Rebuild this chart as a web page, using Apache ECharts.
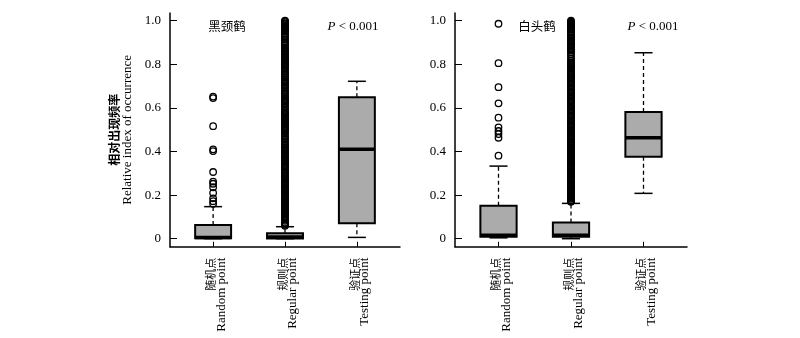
<!DOCTYPE html>
<html>
<head>
<meta charset="utf-8">
<script src="https://cdn.jsdelivr.net/npm/echarts@6/dist/echarts.min.js"></script>
<style>
html,body{margin:0;padding:0;background:#fff;}
#chart{width:800px;height:338px;}
</style>
</head>
<body>
<div id="chart"></div>
<script>
// ---------- data ----------
const categoriesCn = ['随机点', '规则点', '验证点'];
const categoriesEn = ['Random point', 'Regular point', 'Testing point'];
const categoryPositions = [1, 2, 3];
const yTicks = [0, 0.2, 0.4, 0.6, 0.8, 1.0];
const yTickLabels = ['0', '0.2', '0.4', '0.6', '0.8', '1.0'];
const speciesNames = ['黑颈鹤', '白头鹤'];
const pValueText = 'P < 0.001';
const yAxisNameCn = '相对出现频率';
const yAxisNameEn = 'Relative index of occurrence';

// box stats per category: [lower whisker, Q1, median, Q3, upper whisker]
const blackNeckedBoxes = [
  [0.000, 0.002, 0.006, 0.063, 0.147],
  [0.000, 0.001, 0.008, 0.025, 0.055],
  [0.006, 0.071, 0.410, 0.649, 0.722]
];
const hoodedBoxes = [
  [0.004, 0.009, 0.016, 0.151, 0.333],
  [0.000, 0.009, 0.016, 0.074, 0.162],
  [0.208, 0.376, 0.463, 0.581, 0.853]
];

// outliers
const blackNeckedRandomOutliers = [0.652, 0.645, 0.516, 0.410, 0.402, 0.306, 0.262, 0.252, 0.236, 0.210, 0.185, 0.172, 0.160];
const blackNeckedRegularOutliers = [1.000, 0.997, 0.993, 0.988, 0.984, 0.979, 0.975, 0.970, 0.965, 0.961, 0.956, 0.950, 0.941, 0.935, 0.929, 0.922, 0.915, 0.906, 0.899, 0.893, 0.887, 0.879, 0.872, 0.866, 0.861, 0.855, 0.849, 0.844, 0.838, 0.833, 0.827, 0.822, 0.816, 0.811, 0.805, 0.800, 0.794, 0.789, 0.783, 0.776, 0.768, 0.759, 0.752, 0.746, 0.740, 0.733, 0.727, 0.721, 0.716, 0.710, 0.704, 0.697, 0.689, 0.681, 0.672, 0.666, 0.659, 0.652, 0.646, 0.641, 0.635, 0.630, 0.624, 0.617, 0.609, 0.600, 0.592, 0.585, 0.579, 0.573, 0.568, 0.562, 0.557, 0.551, 0.546, 0.540, 0.535, 0.529, 0.524, 0.518, 0.513, 0.507, 0.502, 0.496, 0.489, 0.481, 0.472, 0.463, 0.455, 0.447, 0.439, 0.432, 0.426, 0.420, 0.414, 0.409, 0.403, 0.398, 0.392, 0.387, 0.381, 0.376, 0.370, 0.365, 0.359, 0.354, 0.348, 0.343, 0.337, 0.332, 0.326, 0.320, 0.313, 0.305, 0.298, 0.292, 0.287, 0.281, 0.276, 0.270, 0.265, 0.259, 0.254, 0.248, 0.243, 0.237, 0.232, 0.226, 0.221, 0.215, 0.210, 0.204, 0.199, 0.193, 0.188, 0.182, 0.177, 0.171, 0.166, 0.160, 0.155, 0.149, 0.144, 0.138, 0.133, 0.127, 0.122, 0.116, 0.111, 0.105, 0.100, 0.094, 0.089, 0.082, 0.074, 0.068, 0.063, 0.059];
const hoodedRandomOutliers = [0.986, 0.805, 0.695, 0.621, 0.555, 0.511, 0.494, 0.480, 0.463, 0.381];
const hoodedRegularOutliers = [1.000, 0.996, 0.991, 0.987, 0.982, 0.977, 0.973, 0.968, 0.963, 0.958, 0.951, 0.944, 0.938, 0.932, 0.925, 0.918, 0.911, 0.905, 0.899, 0.893, 0.887, 0.881, 0.875, 0.869, 0.862, 0.855, 0.846, 0.836, 0.825, 0.817, 0.810, 0.804, 0.798, 0.792, 0.786, 0.779, 0.771, 0.765, 0.759, 0.753, 0.747, 0.741, 0.735, 0.729, 0.723, 0.717, 0.711, 0.705, 0.699, 0.692, 0.684, 0.677, 0.671, 0.665, 0.659, 0.653, 0.647, 0.641, 0.635, 0.629, 0.622, 0.614, 0.607, 0.601, 0.595, 0.589, 0.583, 0.577, 0.571, 0.565, 0.558, 0.550, 0.543, 0.537, 0.531, 0.525, 0.519, 0.514, 0.508, 0.503, 0.497, 0.492, 0.486, 0.481, 0.475, 0.470, 0.464, 0.459, 0.453, 0.448, 0.442, 0.437, 0.431, 0.426, 0.420, 0.415, 0.409, 0.404, 0.398, 0.393, 0.387, 0.382, 0.376, 0.371, 0.365, 0.360, 0.354, 0.349, 0.343, 0.338, 0.332, 0.327, 0.321, 0.316, 0.310, 0.305, 0.299, 0.294, 0.288, 0.283, 0.277, 0.272, 0.266, 0.261, 0.255, 0.250, 0.244, 0.239, 0.233, 0.228, 0.222, 0.217, 0.211, 0.206, 0.200, 0.195, 0.189, 0.184, 0.178, 0.173, 0.169];

// ---------- chart ----------
const SERIF = '"Liberation Serif", "Noto Sans CJK SC", serif';
const CJK = '"Noto Sans CJK SC", sans-serif';
const chart = echarts.init(document.getElementById('chart'), null, {renderer: 'canvas'});

function boxRows(boxes) {
  return boxes.map((b, i) => [categoryPositions[i]].concat(b));
}
function outlierRows(pos, vals) {
  return vals.map(v => [pos, v]);
}

function renderBox(params, api) {
  const x = api.value(0);
  const low = api.coord([x, api.value(1)]);
  const q1 = api.coord([x, api.value(2)]);
  const med = api.coord([x, api.value(3)]);
  const q3 = api.coord([x, api.value(4)]);
  const high = api.coord([x, api.value(5)]);
  const halfBox = api.size([0.25, 0])[0];
  const halfCap = api.size([0.125, 0])[0];
  const cx = low[0];
  const dash = {stroke: '#000', lineWidth: 1.3, lineDash: [4, 3], fill: null};
  const solid = {stroke: '#000', lineWidth: 1.5, fill: null};
  return {
    type: 'group',
    children: [
      {type: 'line', shape: {x1: cx, y1: q3[1], x2: cx, y2: high[1]}, style: dash},
      {type: 'line', shape: {x1: cx, y1: q1[1], x2: cx, y2: low[1]}, style: dash},
      {type: 'line', shape: {x1: cx - halfCap, y1: high[1], x2: cx + halfCap, y2: high[1]}, style: solid},
      {type: 'line', shape: {x1: cx - halfCap, y1: low[1], x2: cx + halfCap, y2: low[1]}, style: solid},
      {type: 'rect', shape: {x: cx - halfBox, y: q3[1], width: halfBox * 2, height: q1[1] - q3[1]},
        style: {fill: '#ababab', stroke: '#000', lineWidth: 2}},
      {type: 'line', shape: {x1: cx - halfBox, y1: med[1], x2: cx + halfBox, y2: med[1]},
        style: {stroke: '#000', lineWidth: 3.5}}
    ]
  };
}

const grids = [
  {left: 170, top: 13, width: 230, height: 233.7},
  {left: 455, top: 13, width: 232, height: 233.7}
];

function makeXAxis(idx) {
  return {
    type: 'value', gridIndex: idx, min: 0.4, max: 3.6,
    splitLine: {show: false},
    axisLine: {show: true, onZero: false, lineStyle: {color: '#000', width: 1.5}},
    axisTick: {show: true, inside: true, length: 5, customValues: categoryPositions, lineStyle: {color: '#000', width: 1}},
    axisLabel: {
      show: true, customValues: categoryPositions, rotate: 90, margin: 11,
      color: '#000', padding: [6, 0, 0, 0],
      formatter: v => {
        const i = Math.round(v) - 1;
        return categoriesCn[i] ? '{cn|' + categoriesCn[i] + '}\n{en|' + categoriesEn[i] + '}' : '';
      },
      rich: {
        cn: {fontFamily: CJK, fontSize: 11, color: '#000', lineHeight: 10},
        en: {fontFamily: SERIF, fontSize: 13, color: '#000', lineHeight: 11}
      }
    }
  };
}
function makeYAxis(idx, withName) {
  const ax = {
    type: 'value', gridIndex: idx, min: -0.0367, max: 1.0353,
    splitLine: {show: false},
    axisLine: {show: true, onZero: false, lineStyle: {color: '#000', width: 1.5}},
    axisTick: {show: true, inside: true, length: 7, customValues: yTicks, lineStyle: {color: '#000', width: 1}},
    axisLabel: {
      show: true, customValues: yTicks, margin: 9,
      fontFamily: SERIF, fontSize: 13, color: '#000',
      formatter: v => { const i = yTicks.findIndex(t => Math.abs(t - v) < 1e-6); return i >= 0 ? yTickLabels[i] : ''; }
    }
  };
  if (withName) {
    ax.name = '{cn|' + yAxisNameCn + '}\n{en|' + yAxisNameEn + '}';
    ax.nameLocation = 'middle';
    ax.nameRotate = 90;
    ax.nameGap = 36;
    ax.nameTextStyle = {
      align: 'center',
      rich: {
        cn: {fontFamily: CJK, fontSize: 12, fontWeight: 'bold', color: '#000', lineHeight: 13, align: 'center'},
        en: {fontFamily: SERIF, fontSize: 13, color: '#000', lineHeight: 13, align: 'center'}
      }
    };
  }
  return ax;
}

const outlierStyle = {
  type: 'scatter', symbol: 'circle', symbolSize: 6.5, silent: true,
  itemStyle: {color: 'rgba(0,0,0,0)', borderColor: '#000', borderWidth: 1.3, opacity: 1},
  emphasis: {disabled: true}
};

const pStyle = (x) => ({type: 'text', x: x, y: 27, style: {
  text: '{i|P}{n|' + pValueText.slice(1) + '}', align: 'center', verticalAlign: 'middle',
  rich: {
    i: {fontFamily: SERIF, fontStyle: 'italic', fontSize: 13, fill: '#000'},
    n: {fontFamily: SERIF, fontSize: 13, fill: '#000'}
  }}});

const option = {
  backgroundColor: '#fff',
  animation: false,
  grid: grids,
  xAxis: [makeXAxis(0), makeXAxis(1)],
  yAxis: [makeYAxis(0, true), makeYAxis(1, false)],
  series: [
    {type: 'custom', xAxisIndex: 0, yAxisIndex: 0, renderItem: renderBox, data: boxRows(blackNeckedBoxes),
      encode: {x: 0, y: [1, 2, 3, 4, 5]}, silent: true, z: 2},
    {type: 'custom', xAxisIndex: 1, yAxisIndex: 1, renderItem: renderBox, data: boxRows(hoodedBoxes),
      encode: {x: 0, y: [1, 2, 3, 4, 5]}, silent: true, z: 2},
    Object.assign({}, outlierStyle, {xAxisIndex: 0, yAxisIndex: 0, data: outlierRows(1, blackNeckedRandomOutliers), z: 3}),
    Object.assign({}, outlierStyle, {xAxisIndex: 0, yAxisIndex: 0, data: outlierRows(2, blackNeckedRegularOutliers), z: 3}),
    Object.assign({}, outlierStyle, {xAxisIndex: 1, yAxisIndex: 1, data: outlierRows(1, hoodedRandomOutliers), z: 3}),
    Object.assign({}, outlierStyle, {xAxisIndex: 1, yAxisIndex: 1, data: outlierRows(2, hoodedRegularOutliers), z: 3})
  ],
  graphic: [
    {type: 'text', x: 227, y: 26, style: {text: speciesNames[0], fontFamily: CJK, fontSize: 12.5, fill: '#000', align: 'center', verticalAlign: 'middle'}},
    {type: 'text', x: 537, y: 26, style: {text: speciesNames[1], fontFamily: CJK, fontSize: 12.5, fill: '#000', align: 'center', verticalAlign: 'middle'}},
    pStyle(353),
    pStyle(653)
  ]
};
chart.setOption(option);
</script>
</body>
</html>
